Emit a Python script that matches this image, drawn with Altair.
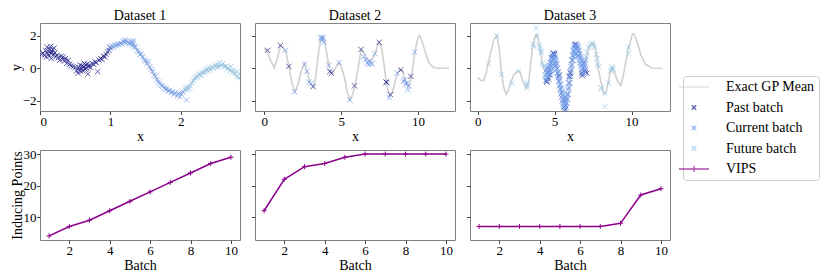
import altair as alt
import pandas as pd

# ---------------- data ----------------
SERIES = ["Exact GP Mean", "Past batch", "Current batch", "Future batch", "VIPS"]
COLORS = ["#d0d0d0", "#1c1c8c", "#6c98ec", "#92c6e6", "#8b008b"]

TITLES = ["Dataset 1", "Dataset 2", "Dataset 3"]

# Dataset 1 -------------------------------------------------------------
D1_MEAN = [(0.0, 0.9), (0.1, 1.0), (0.2, 0.95), (0.3, 0.7), (0.4, 0.4), (0.5, 0.1),
           (0.6, -0.05), (0.7, 0.1), (0.8, 0.4), (0.9, 0.75), (1.0, 1.2), (1.1, 1.45),
           (1.2, 1.65), (1.3, 1.6), (1.4, 1.0), (1.5, 0.4), (1.6, -0.25), (1.7, -0.9),
           (1.8, -1.3), (1.9, -1.5), (2.0, -1.55), (2.1, -1.2), (2.2, -0.6), (2.3, -0.3),
           (2.4, -0.05), (2.5, 0.15), (2.6, 0.2), (2.7, -0.1), (2.8, -0.5), (2.84, -0.65)]
D1_PAST = [(0.02, 0.85), (0.04, 0.95), (0.06, 0.8), (0.08, 1.1), (0.09, 0.7), (0.1, 1.3),
           (0.11, 0.9), (0.12, 1.05), (0.13, 0.75), (0.14, 1.2), (0.15, 0.95), (0.15, 1.35),
           (0.16, 0.6), (0.17, 1.0), (0.18, 1.15), (0.19, 0.85), (0.2, 1.25), (0.21, 0.95),
           (0.22, 0.7), (0.24, 0.8), (0.26, 0.65), (0.28, 0.5), (0.3, 0.75), (0.32, 0.55),
           (0.33, 0.7), (0.35, 0.45), (0.36, 0.6), (0.38, 0.3), (0.4, 0.5), (0.42, 0.25),
           (0.44, 0.15), (0.47, 0.1), (0.5, 0.05), (0.52, -0.15), (0.54, -0.3), (0.55, 0.05),
           (0.56, -0.1), (0.57, 0.2), (0.58, -0.2), (0.59, 0.0), (0.6, 0.15), (0.61, -0.15),
           (0.62, 0.1), (0.63, 0.3), (0.64, -0.05), (0.65, 0.2), (0.66, 0.0), (0.67, 0.25),
           (0.68, -0.35), (0.69, 0.1), (0.7, 0.2), (0.72, 0.05), (0.74, 0.3), (0.76, 0.25),
           (0.78, 0.4), (0.8, 0.35), (0.82, -0.2), (0.84, 0.5), (0.86, 0.6), (0.88, 0.55),
           (0.9, 0.75), (0.92, 0.7), (0.94, 0.85), (0.96, 1.0), (0.98, 1.1), (0.99, 1.3)]
D1_CURRENT = [(1.0, 1.25), (1.02, 1.4), (1.04, 1.3), (1.06, 1.45), (1.08, 1.4), (1.1, 1.5),
              (1.12, 1.45), (1.14, 1.55), (1.16, 1.5), (1.18, 1.65), (1.2, 1.75), (1.21, 1.6),
              (1.22, 1.7), (1.24, 1.6), (1.26, 1.55), (1.28, 1.5), (1.3, 1.65), (1.31, 1.4),
              (1.32, 1.55), (1.33, 1.7), (1.34, 1.35), (1.36, 1.3), (1.38, 1.1), (1.4, 1.0),
              (1.42, 0.85), (1.44, 0.9), (1.46, 0.7), (1.48, 0.55), (1.5, 0.45), (1.52, 0.3),
              (1.54, 0.4), (1.56, 0.1), (1.58, -0.05), (1.6, -0.2), (1.62, -0.4), (1.64, -0.5),
              (1.66, -0.7), (1.68, -0.85), (1.7, -0.95), (1.72, -1.05), (1.74, -1.1),
              (1.76, -1.2), (1.78, -1.3), (1.8, -1.25), (1.82, -1.4), (1.84, -1.35),
              (1.86, -1.5), (1.88, -1.45), (1.9, -1.6), (1.92, -1.5), (1.95, -1.7),
              (1.97, -1.55), (1.99, -1.75), (2.01, -1.6), (2.03, -1.45), (2.08, -1.95)]
D1_FUTURE = [(2.05, -1.3), (2.07, -1.2), (2.09, -1.35), (2.1, -1.15), (2.12, -1.25),
             (2.14, -1.1), (2.16, -0.9), (2.18, -0.75), (2.2, -0.6), (2.22, -0.5),
             (2.24, -0.55), (2.25, -0.35), (2.27, -0.4), (2.29, -0.25), (2.3, -0.45),
             (2.32, -0.2), (2.34, -0.3), (2.35, -0.1), (2.37, -0.05), (2.39, -0.2),
             (2.4, 0.05), (2.42, -0.1), (2.44, 0.1), (2.46, 0.0), (2.48, 0.2), (2.5, 0.05),
             (2.52, 0.25), (2.53, 0.1), (2.55, 0.35), (2.56, 0.15), (2.58, 0.2), (2.6, 0.3),
             (2.62, 0.1), (2.64, 0.15), (2.66, -0.05), (2.68, 0.05), (2.7, -0.15),
             (2.71, 0.1), (2.73, -0.25), (2.75, -0.1), (2.77, -0.3), (2.79, -0.5),
             (2.8, -0.2), (2.82, -0.6), (2.83, -0.35)]

# Dataset 2 -------------------------------------------------------------
D2_MEAN = [(0.0, 1.2), (0.2, 1.05), (0.4, 0.5), (0.65, 0.02), (0.85, 0.6), (1.05, 1.4),
           (1.2, 1.35), (1.4, 1.0), (1.6, 0.15), (1.8, -0.9), (2.0, -1.45), (2.2, -1.0),
           (2.4, -0.2), (2.62, 0.3), (2.8, -0.3), (3.0, -0.95), (3.2, -1.15), (3.35, -0.5),
           (3.5, 0.7), (3.65, 1.7), (3.8, 1.95), (3.95, 1.6), (4.1, 0.7), (4.25, -0.1),
           (4.4, -0.3), (4.6, -0.05), (4.85, 0.36), (5.05, 0.0), (5.25, -0.7), (5.4, -1.5),
           (5.57, -1.95), (5.75, -1.6), (5.9, -1.05), (6.1, 0.0), (6.3, 1.15), (6.45, 1.0),
           (6.6, 0.7), (6.8, 0.45), (7.0, 0.55), (7.2, 0.9), (7.45, 1.6), (7.6, 1.4),
           (7.75, 0.5), (7.9, -0.6), (8.05, -1.4), (8.2, -1.7), (8.35, -1.45), (8.55, -0.65),
           (8.8, -0.05), (9.0, -0.2), (9.15, -0.7), (9.35, -1.1), (9.5, -0.8), (9.65, 0.0),
           (9.8, 1.05), (10.0, 1.9), (10.1, 2.02), (10.25, 1.7), (10.45, 1.05), (10.7, 0.35),
           (11.0, 0.05), (11.4, 0.0), (12.0, 0.0)]
D2_PAST = [(0.22, 1.11), (1.05, 1.41), (1.6, 0.12), (3.18, -1.12), (4.26, -0.2),
           (4.37, -0.3), (5.87, -1.08), (6.29, 1.16), (7.47, 1.6), (7.92, -0.84),
           (7.96, -0.88), (8.2, -1.62), (8.88, -0.1), (9.53, -0.5)]
D2_CURRENT = [(1.38, 1.11), (1.97, -1.44), (2.62, 0.26), (2.78, -0.18), (2.91, -0.84),
              (3.02, -0.94), (3.67, 1.85), (3.72, 1.92), (3.78, 1.75), (3.82, 1.88),
              (3.85, 1.6), (4.19, 0.2), (4.87, 0.36), (5.57, -1.94), (6.46, 0.72),
              (6.59, 0.52), (6.7, 0.35), (6.78, 0.25), (6.85, 0.45), (6.92, 0.3),
              (7.02, 0.28), (7.18, 0.9), (8.13, -1.8), (8.62, -0.3), (9.06, -0.8),
              (9.12, -0.7), (9.2, -1.0), (9.27, -0.9), (9.33, -1.32), (9.4, -1.1),
              (9.78, 0.99)]
D2_FUTURE = []

# Dataset 3 -------------------------------------------------------------
D3_MEAN = [(0.0, -0.55), (0.2, -0.75), (0.4, -0.75), (0.6, -0.1), (0.85, 1.0), (1.05, 1.75),
           (1.25, 2.0), (1.4, 1.2), (1.55, -0.3), (1.7, -1.2), (1.85, -1.6), (2.0, -1.35),
           (2.15, -0.85), (2.35, -0.4), (2.6, -0.15), (2.75, -0.25), (2.95, -0.85),
           (3.15, -1.2), (3.3, -0.9), (3.4, -0.1), (3.55, 1.2), (3.7, 1.9), (3.85, 2.1),
           (4.0, 1.5), (4.15, 0.6), (4.3, -0.05), (4.5, -0.35), (4.7, 0.1), (4.9, 0.65),
           (5.0, 0.7), (5.15, 0.1), (5.3, -0.8), (5.45, -1.6), (5.6, -2.1), (5.72, -2.25),
           (5.85, -1.8), (6.0, -0.7), (6.15, 0.5), (6.3, 1.2), (6.45, 1.3), (6.6, 1.1),
           (6.75, 0.55), (6.9, 0.15), (7.05, 0.6), (7.2, 1.2), (7.4, 1.5), (7.55, 1.55),
           (7.7, 1.0), (7.85, -0.1), (8.0, -0.8), (8.2, -1.55), (8.3, -1.55), (8.45, -1.05),
           (8.6, -0.3), (8.75, 0.0), (8.9, -0.3), (9.1, -0.8), (9.3, -1.05), (9.45, -0.5),
           (9.65, 0.5), (9.85, 1.4), (10.05, 2.1), (10.15, 2.15), (10.35, 1.65),
           (10.6, 0.85), (10.9, 0.25), (11.3, 0.02), (12.0, 0.0)]
D3_PAST = [(4.45, -0.75), (4.5, -0.85), (4.55, -0.3), (4.6, -0.65), (4.7, -0.4),
           (4.8, 0.65), (4.9, 0.95), (4.95, 0.9), (5.0, 0.85), (5.3, -0.4), (5.6, -2.4),
           (5.7, -2.55), (5.95, -0.5), (6.02, -0.3), (6.3, 1.45), (6.4, 1.5), (6.75, -0.3),
           (6.8, -0.45), (6.95, -0.1), (7.0, -0.25), (7.1, -0.3)]
D3_CURRENT = [(4.45, -0.7), (4.45, -0.4), (4.45, -0.1), (4.5, -0.6), (4.5, -0.3), (4.5, 0.0),
              (4.5, -0.8), (4.55, -0.5), (4.55, -0.2), (4.55, 0.05), (4.6, -0.55),
              (4.6, -0.25), (4.6, 0.1), (4.65, -0.4), (4.65, -0.1), (4.65, 0.2),
              (4.7, -0.3), (4.7, 0.0), (4.7, 0.35), (4.75, -0.2), (4.75, 0.15), (4.75, 0.45),
              (4.8, -0.1), (4.8, 0.3), (4.8, 0.6), (4.85, 0.0), (4.85, 0.4), (4.85, 0.75),
              (4.9, 0.2), (4.9, 0.55), (4.9, 0.85), (4.95, 0.3), (4.95, 0.6), (4.95, 0.9),
              (5.0, 0.25), (5.0, 0.55), (5.0, 0.8), (5.05, 0.1), (5.05, 0.4), (5.05, 0.7),
              (5.1, -0.1), (5.1, 0.2), (5.1, 0.5), (5.15, -0.3), (5.15, 0.0), (5.15, 0.3),
              (5.2, -0.6), (5.2, -0.3), (5.2, 0.0), (5.25, -0.8), (5.25, -0.5), (5.25, -0.2),
              (5.3, -1.1), (5.3, -0.8), (5.3, -0.5), (5.35, -1.3), (5.35, -1.0), (5.35, -0.7),
              (5.4, -1.6), (5.4, -1.3), (5.4, -1.0), (5.45, -1.8), (5.45, -1.5), (5.45, -1.2),
              (5.5, -2.0), (5.5, -1.7), (5.5, -1.4), (5.55, -2.2), (5.55, -1.9), (5.55, -1.6),
              (5.6, -2.35), (5.6, -2.1), (5.6, -1.8), (5.65, -2.45), (5.65, -2.2),
              (5.65, -1.9), (5.7, -2.5), (5.7, -2.25), (5.7, -1.95), (5.75, -2.4),
              (5.75, -2.1), (5.75, -1.8), (5.8, -2.2), (5.8, -1.9), (5.8, -1.6), (5.85, -1.9),
              (5.85, -1.6), (5.85, -1.3), (5.9, -1.6), (5.9, -1.2), (5.9, -0.9), (5.95, -1.2),
              (5.95, -0.9), (5.95, -0.6), (6.0, -0.9), (6.0, -0.5), (6.0, -0.2), (6.05, -0.5),
              (6.05, -0.2), (6.05, 0.1), (6.1, -0.1), (6.1, 0.2), (6.1, 0.5), (6.15, 0.2),
              (6.15, 0.5), (6.15, 0.8), (6.2, 0.5), (6.2, 0.8), (6.2, 1.1), (6.25, 0.7),
              (6.25, 1.0), (6.25, 1.3), (6.3, 0.85), (6.3, 1.1), (6.3, 1.4), (6.35, 0.9),
              (6.35, 1.2), (6.35, 1.45), (6.4, 0.95), (6.4, 1.2), (6.4, 1.4), (6.45, 0.9),
              (6.45, 1.15), (6.45, 1.4), (6.5, 0.8), (6.5, 1.1), (6.5, 1.35), (6.55, 0.7),
              (6.55, 1.0), (6.55, 1.3), (6.6, 0.5), (6.6, 0.8), (6.6, 1.1), (6.65, 0.3),
              (6.65, 0.6), (6.65, 0.9), (6.7, 0.1), (6.7, 0.4), (6.7, 0.7), (6.75, -0.1),
              (6.75, 0.2), (6.75, 0.5), (6.8, -0.3), (6.8, 0.0), (6.8, 0.3), (6.85, -0.35),
              (6.85, -0.05), (6.85, 0.25), (6.9, -0.3), (6.9, 0.0), (6.9, 0.3), (6.95, -0.2),
              (6.95, 0.1), (6.95, 0.4), (7.0, -0.1), (7.0, 0.25), (7.0, 0.55)]
D3_FUTURE = [(0.7, 0.3), (1.24, 2.0), (1.56, -0.38), (2.22, -0.92), (2.65, -0.18),
             (3.18, -0.9), (3.2, -1.2), (3.22, -1.05), (3.6, 1.5), (3.65, 1.35), (3.8, 2.5),
             (3.85, 1.95), (4.0, 1.4), (4.05, 1.25), (4.1, 1.05), (4.15, 0.95), (4.2, 0.3),
             (4.25, 0.15), (4.35, -0.4), (4.4, -0.55), (5.0, 0.5), (5.55, -2.3),
             (5.65, -1.6), (6.4, 1.0), (7.05, 0.7), (7.1, 1.0), (7.2, 1.3), (7.3, 1.45),
             (7.4, 1.55), (7.5, 1.45), (7.6, 1.3), (7.7, 0.85), (7.75, 0.6), (7.8, 0.25),
             (7.85, 0.1), (8.0, -1.2), (8.05, -1.25), (8.25, -1.55), (8.26, -2.35),
             (8.5, -0.9), (8.65, -0.15), (8.7, 0.0), (8.75, 0.1), (8.8, -0.05), (9.8, 1.3),
             (9.8, 0.9)]

# Bottom row: inducing points per batch
BATCH = [1, 2, 3, 4, 5, 6, 7, 8, 9, 10]
VIPS_1 = [4, 7, 9, 12, 15, 18, 21, 24, 27, 29]
VIPS_2 = [12, 22, 26, 27, 29, 30, 30, 30, 30, 30]
VIPS_3 = [7, 7, 7, 7, 7, 7, 7, 8, 17, 19]

X_DOMAINS = [[0, 2.84], [-0.6, 12.4], [-0.5, 12.5]]
X_TICKS = [[0, 1, 2], [0, 5, 10], [0, 5, 10]]
Y_TOP_DOMAIN = [-2.63, 2.79]
Y_BOT_DOMAIN = [2.7, 31.3]
BATCH_DOMAIN = [0.55, 10.45]

# ---------------- styles ----------------
FONT = "Liberation Serif, Times New Roman, serif"
X_PATH = "M-0.45,-0.45L0.45,0.45M-0.45,0.45L0.45,-0.45"
LINE_PATH = "M-3,0L3,0"
VIPS_PATH = "M-3,0L3,0M0,-0.6L0,0.6"
SHAPES = [LINE_PATH, X_PATH, X_PATH, X_PATH, VIPS_PATH]
PLUS_PATH = "M-1,0L1,0M0,-1L0,1"
PANEL_W = 200
TOP_H = 88
BOT_H = 90

color_scale = alt.Scale(domain=SERIES, range=COLORS)
shape_scale = alt.Scale(domain=SERIES, range=SHAPES)

legend = alt.Legend(title=None, orient="none", legendX=643, legendY=53,
                    symbolSize=100, symbolStrokeWidth=1.3, labelFont=FONT,
                    labelFontSize=14, labelOffset=25, rowPadding=6.5, padding=4,
                    fillColor="white", strokeColor="#cccccc", cornerRadius=3,
                    symbolFillColor="transparent")


def pts_frame(groups):
    rows = []
    for name, pts in groups:
        for x, y in pts:
            rows.append({"x": x, "y": y, "series": name})
    return pd.DataFrame(rows)


def top_panel(i, mean, past, current, future):
    xs = alt.Scale(domain=X_DOMAINS[i], nice=False, zero=False)
    ys = alt.Scale(domain=Y_TOP_DOMAIN, nice=False, zero=False)
    xaxis = alt.Axis(values=X_TICKS[i], title="x")
    yaxis = alt.Axis(values=[-2, 0, 2], title="y" if i == 0 else None, labels=(i == 0))
    mean_df = pd.DataFrame(mean, columns=["x", "y"])
    line = alt.Chart(mean_df).mark_line(color=COLORS[0], strokeWidth=1.6, clip=True).encode(
        x=alt.X("x:Q", scale=xs, axis=xaxis),
        y=alt.Y("y:Q", scale=ys, axis=yaxis),
    )
    df = pts_frame([(SERIES[1], past), (SERIES[2], current), (SERIES[3], future)])
    leg = legend if i == 0 else None
    points = alt.Chart(df).mark_point(filled=False, size=139, strokeWidth=1, clip=True).encode(
        x=alt.X("x:Q", scale=xs, axis=xaxis),
        y=alt.Y("y:Q", scale=ys, axis=yaxis),
        color=alt.Color("series:N", scale=color_scale, legend=leg),
        shape=alt.Shape("series:N", scale=shape_scale, legend=leg),
    )
    return alt.layer(line, points).properties(
        width=PANEL_W, height=TOP_H, title=alt.TitleParams(TITLES[i], offset=0.1))


def bottom_panel(i, vals):
    df = pd.DataFrame({"batch": BATCH, "n": vals})
    base = alt.Chart(df).encode(
        x=alt.X("batch:Q", scale=alt.Scale(domain=BATCH_DOMAIN, nice=False, zero=False),
                axis=alt.Axis(values=[2, 4, 6, 8, 10], title="Batch")),
        y=alt.Y("n:Q", scale=alt.Scale(domain=Y_BOT_DOMAIN, nice=False, zero=False),
                axis=alt.Axis(values=[10, 20, 30], title="Inducing Points" if i == 0 else None,
                              labels=(i == 0))),
    )
    line = base.mark_line(color=COLORS[4], strokeWidth=1.5)
    marks = base.mark_point(shape=PLUS_PATH, filled=False, color=COLORS[4], size=25,
                            strokeWidth=1, opacity=1)
    return alt.layer(line, marks).properties(width=PANEL_W, height=BOT_H)


panels = [
    top_panel(0, D1_MEAN, D1_PAST, D1_CURRENT, D1_FUTURE),
    top_panel(1, D2_MEAN, D2_PAST, D2_CURRENT, D2_FUTURE),
    top_panel(2, D3_MEAN, D3_PAST, D3_CURRENT, D3_FUTURE),
    bottom_panel(0, VIPS_1),
    bottom_panel(1, VIPS_2),
    bottom_panel(2, VIPS_3),
]

chart = alt.concat(*panels, columns=3, spacing={"row": 3, "column": 9}, align="each").properties(
    padding={"left": 0, "top": 0, "right": 0, "bottom": 0}
).configure(
    font=FONT,
).configure_view(
    stroke="#808080", strokeWidth=1
).configure_axis(
    labelFont=FONT, labelFontSize=13, labelColor="black",
    titleFont=FONT, titleFontSize=14, titleFontWeight="normal", titleColor="black",
    domain=False, grid=False, tickColor="#444444", tickSize=3.5, tickWidth=1,
    labelPadding=0.5, titlePadding=1,
).configure_axisY(
    titlePadding=-1,
).configure_title(
    font=FONT, fontSize=14, fontWeight="normal", color="black",
)

chart.save("out.html", embed_options={"renderer": "svg", "actions": False})
